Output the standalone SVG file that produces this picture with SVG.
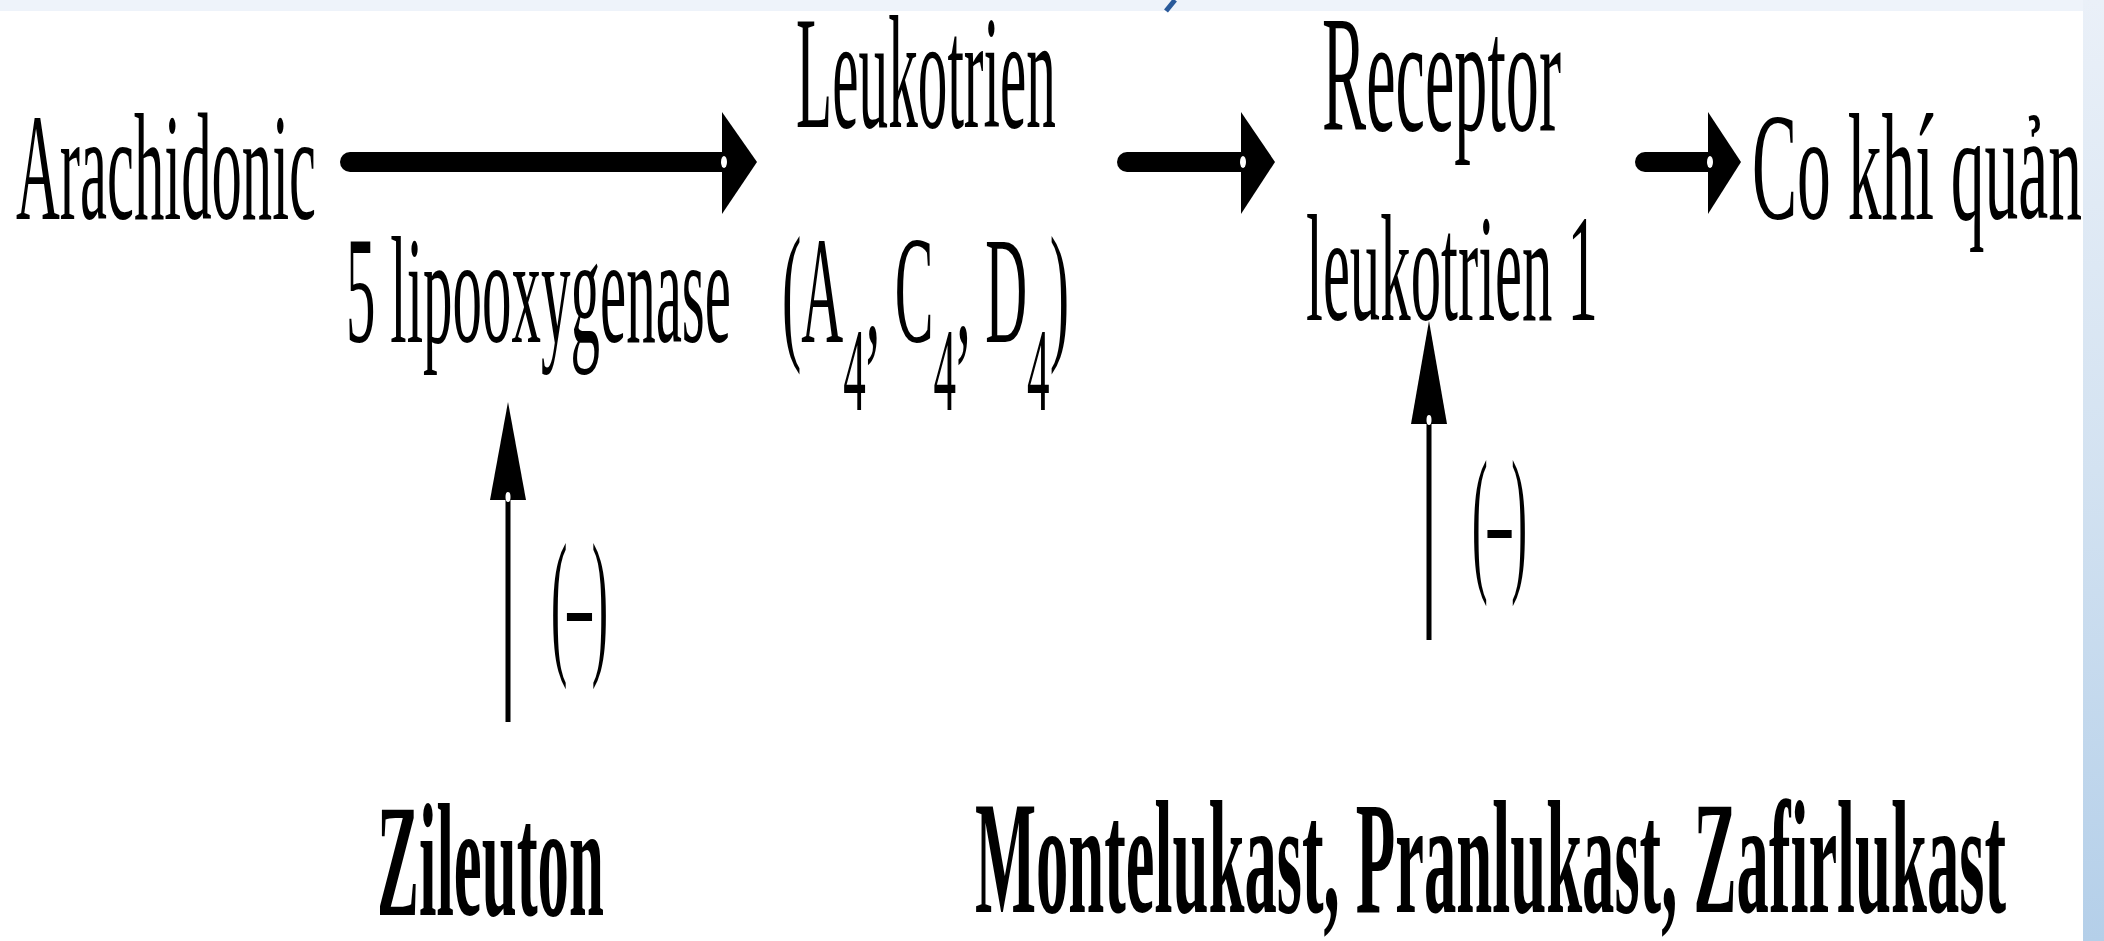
<svg xmlns="http://www.w3.org/2000/svg" width="2104" height="941" viewBox="0 0 2104 941">
  <defs>
    <linearGradient id="rightBand" x1="0" y1="0" x2="0" y2="1">
      <stop offset="0" stop-color="#eaf0f8"/>
      <stop offset="0.5" stop-color="#d3e2f1"/>
      <stop offset="1" stop-color="#b4cfe9"/>
    </linearGradient>
    <style>
      .t { font-family: "Liberation Serif", "DejaVu Serif", serif; font-size: 152px; fill: #000; }
      .b { font-family: "Liberation Serif", "DejaVu Serif", serif; font-size: 160px; font-weight: bold; fill: #000; }
      .p { font-family: "Liberation Serif", "DejaVu Serif", serif; font-size: 160px; fill: #000; }
      .sub { font-size: 118px; }
      .shaft { stroke: #000; stroke-width: 20; stroke-linecap: round; fill: none; }
      .thin { stroke: #000; stroke-width: 5; fill: none; }
      .head { fill: #000; stroke: none; }
      .dot { fill: #fff; }
    </style>
  </defs>

  <!-- background -->
  <rect x="0" y="0" width="2104" height="941" fill="#ffffff"/>
  <rect x="0" y="0" width="2104" height="11" fill="#eef3fa"/>
  <rect x="2083" y="0" width="21" height="941" fill="url(#rightBand)"/>
  <path d="M1166 11 L1175 0" stroke="#2a5a9a" stroke-width="5" fill="none"/>

  <!-- nodes -->
  <g id="arachidonic">
    <text class="t" x="16" y="219" textLength="300" lengthAdjust="spacingAndGlyphs">Arachidonic</text>
  </g>
  <g id="leukotrien">
    <text class="t" x="796" y="127" textLength="260" lengthAdjust="spacingAndGlyphs" style="font-size:160px">Leukotrien</text>
    <text class="t" x="782" y="342" textLength="287" lengthAdjust="spacingAndGlyphs">(A<tspan class="sub" dy="68">4</tspan><tspan dy="-68">, C</tspan><tspan class="sub" dy="68">4</tspan><tspan dy="-68">, D</tspan><tspan class="sub" dy="68">4</tspan><tspan dy="-68">)</tspan></text>
  </g>
  <g id="receptor">
    <text class="t" x="1322" y="130" textLength="239" lengthAdjust="spacingAndGlyphs" style="font-size:166px">Receptor</text>
    <text class="t" x="1306" y="320" textLength="292" lengthAdjust="spacingAndGlyphs">leukotrien 1</text>
  </g>
  <g id="co-khi-quan">
    <text class="t" x="1752" y="219" textLength="330" lengthAdjust="spacingAndGlyphs">Co khí quản</text>
  </g>
  <g id="zileuton">
    <text class="b" x="377" y="915" textLength="227" lengthAdjust="spacingAndGlyphs">Zileuton</text>
  </g>
  <g id="montelukast">
    <text class="b" x="975" y="912" textLength="1031" lengthAdjust="spacingAndGlyphs">Montelukast, Pranlukast, Zafirlukast</text>
  </g>

  <!-- connectors -->
  <g id="connectors">
    <!-- Arachidonic -> Leukotrien -->
    <line class="shaft" x1="350" y1="162" x2="724" y2="162"/>
    <polygon class="head" points="722,112 757,162 722,214"/>
    <ellipse class="dot" cx="724" cy="162" rx="3" ry="6"/>
    <text class="t" x="346" y="342" textLength="385" lengthAdjust="spacingAndGlyphs">5 lipooxygenase</text>

    <!-- Leukotrien -> Receptor -->
    <line class="shaft" x1="1127" y1="162" x2="1243" y2="162"/>
    <polygon class="head" points="1241,112 1275,162 1241,214"/>
    <ellipse class="dot" cx="1243" cy="162" rx="3" ry="6"/>

    <!-- Receptor -> Co khi quan -->
    <line class="shaft" x1="1645" y1="162" x2="1710" y2="162"/>
    <polygon class="head" points="1708,112 1741,162 1708,214"/>
    <ellipse class="dot" cx="1710" cy="162" rx="3" ry="6"/>

    <!-- Zileuton inhibits 5 lipooxygenase -->
    <line class="thin" x1="508" y1="722" x2="508" y2="500"/>
    <polygon class="head" points="490,500 508,402 526,500"/>
    <ellipse class="dot" cx="508" cy="497" rx="2.5" ry="5"/>
    <text class="p" x="551" y="655" textLength="57" lengthAdjust="spacingAndGlyphs">(–)</text>

    <!-- Montelukast... inhibit receptor -->
    <line class="thin" x1="1429" y1="640" x2="1429" y2="420"/>
    <polygon class="head" points="1411,424 1429,321 1447,424"/>
    <ellipse class="dot" cx="1429" cy="420" rx="2.5" ry="5"/>
    <text class="p" x="1472" y="572" textLength="55" lengthAdjust="spacingAndGlyphs">(–)</text>
  </g>
</svg>
